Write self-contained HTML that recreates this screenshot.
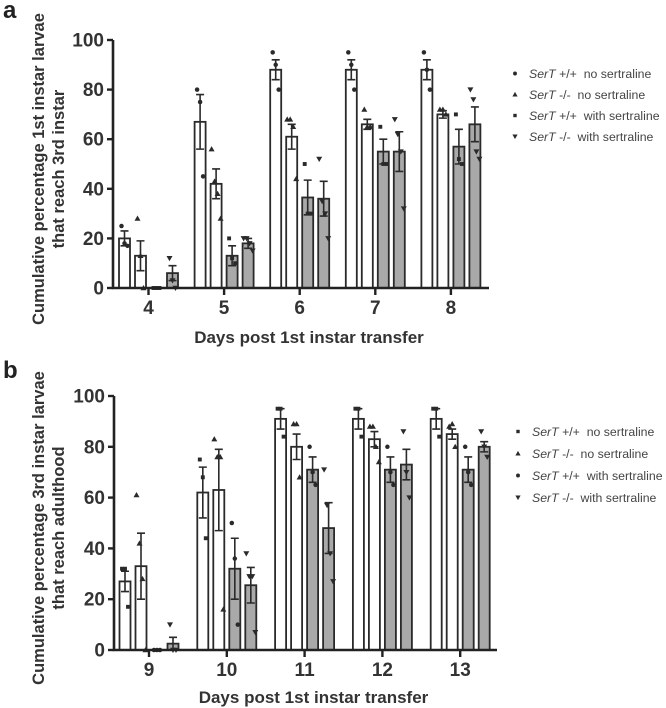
<!DOCTYPE html>
<html><head><meta charset="utf-8"><style>
body{margin:0;background:#fff;width:666px;height:708px;overflow:hidden}
svg{display:block;font-family:"Liberation Sans",Arial,sans-serif}
</style></head><body>
<svg id="chart" width="666" height="708" viewBox="0 0 666 708"></svg>
<script>
const daysA=["4","5","6","7","8"];
const daysB=["9","10","11","12","13"];
const yTicks=[0,20,40,60,80,100];
const seriesNames=["no sertraline","no sertraline","with sertraline","with sertraline"];
const genotypes=["+/+","-/-","+/+","-/-"];
// panel a means / sem / points
const meanA1=[20,67,88,88,88];
const meanA2=[13,42,61,66,70];
const meanA3=[0,13,36.5,55,57];
const meanA4=[6,18,36,55,66];
const semA1=[3,11,4,4,4];
const semA2=[6,6,5,2,1.5];
const semA3=[0,4,7,5,7];
const semA4=[3,2,7,8,7];
const ptsA1=[[25,18,17],[80,75,45],[95,90,80],[95,90,80],[95,88,80]];
const ptsA2=[[28,13,0],[56,43,38,28],[68,68,65,44],[72,65,65],[72,72,70]];
const ptsA3=[[0,0,0],[20,12,10],[50,30,30],[65,50,50],[70,52,50]];
const ptsA4=[[12,3,0],[20,20,18,15],[52,35,30,20],[68,62,55,32],[80,76,55,52]];
// panel b
const meanB1=[27,62,91,91,91];
const meanB2=[33,63,80,83,85];
const meanB3=[0,32,71,71,71];
const meanB4=[2.5,25.5,48,73,80];
const semB1=[4,10,4,4,4];
const semB2=[13,16,5,3,2];
const semB3=[0,12,5,5,5];
const semB4=[2.5,7,10,6,2];
const ptsB1=[[32,32,17],[75,68,44],[95,95,84],[95,95,84],[95,95,84]];
const ptsB2=[[61,42,28,0],[83,76,76,16],[89,89,68],[88,88,80,74],[88,89,80]];
const ptsB3=[[0,0,0],[50,36,10],[80,70,65],[80,70,65],[80,70,65]];
const ptsB4=[[10,0,0],[38,29,29,7],[71,57,38,27],[86,70,60],[86,80,76]];

const NS="http://www.w3.org/2000/svg";
const svg=document.getElementById('chart');
function mk(tag,attrs,parent){const e=document.createElementNS(NS,tag);for(const k in attrs)e.setAttribute(k,attrs[k]);(parent||svg).appendChild(e);return e;}
const dark="#2a2a2a";
function marker(g,type,x,y,s){
  let e;
  if(type==="circle"){e=mk('circle',{cx:x,cy:y,r:s*0.75,fill:dark},g);}
  else if(type==="square"){e=mk('rect',{x:x-s*0.65,y:y-s*0.65,width:s*1.3,height:s*1.3,fill:dark},g);}
  else if(type==="up"){e=mk('polygon',{points:`${x},${y-s} ${x-s},${y+s*0.75} ${x+s},${y+s*0.75}`,fill:dark},g);}
  else {e=mk('polygon',{points:`${x},${y+s} ${x-s},${y-s*0.75} ${x+s},${y-s*0.75}`,fill:dark},g);}
  return e;
}
function panel(cfg){
  const {id,x0,x1,y0,y100,cats,tick0,tickStep,means,sems,pts,markers,title,letter,letterY,legY,legX,xlabelY}=cfg;
  const g=mk('g',{});
  
  
  const yS=v=>y0+(y100-y0)*v/100;
  const xS=i=>tick0+i*tickStep;
  const offs=[-24,-8,8,24];
  const fills=["#fff","#fff","#a9a9a9","#a9a9a9"];
  for(let s=0;s<4;s++){
    for(let i=0;i<cats.length;i++){
      const cx=xS(i)+offs[s], m=means[s][i], se=sems[s][i];
      const bar=mk('rect',{x:cx-5.5,y:yS(m),width:11,height:Math.max(0,y0-yS(m)),fill:fills[s],stroke:dark,'stroke-width':1.8},g);
      
      
      if(se>0){
        const eb=mk('path',{d:`M${cx},${yS(m-se)}V${yS(m+se)}M${cx-4},${yS(m+se)}H${cx+4}M${cx-4},${yS(m-se)}H${cx+4}`,stroke:dark,'stroke-width':1.6,fill:'none'},g);
        
        
      }
      const p=pts[s][i];
      p.forEach((v,k)=>{
        const dx=(p.length>1)?(k-(p.length-1)/2)*3:0;
        const mkEl=marker(g,markers[s],cx+dx,yS(v),3);
        
        
      });
    }
  }
  const ax=mk('path',{d:`M${x0},${y100}V${y0}H${x1}`,stroke:"#222",'stroke-width':2.6,fill:'none'},g);
  
  
  yTicks.forEach(v=>{
    mk('line',{x1:x0-6,x2:x0,y1:yS(v),y2:yS(v),stroke:"#222",'stroke-width':2.4},g);
    const t=mk('text',{x:x0-9,y:yS(v)+6.5,'text-anchor':'end','font-size':19,'font-weight':'bold',fill:'#333'},g);
    t.textContent=v;
    
    
  });
  cats.forEach((c,i)=>{
    mk('line',{x1:xS(i),x2:xS(i),y1:y0,y2:y0+7,stroke:"#222",'stroke-width':2.4},g);
    const t=mk('text',{x:xS(i),y:y0+26,'text-anchor':'middle','font-size':19,'font-weight':'bold',fill:'#333'},g);
    t.textContent=c;
    
    
  });
  const xl=mk('text',{x:(x0+x1)/2+8,y:xlabelY,'text-anchor':'middle','font-size':17,'font-weight':'bold',fill:'#333'},g);
  xl.textContent="Days post 1st instar transfer";
  
  
  const cy=(y0+y100)/2+5;
  const yt=mk('text',{transform:`translate(44,${cy}) rotate(-90)`,'text-anchor':'middle','font-size':16.5,'font-weight':'bold',fill:'#333'},g);
  
  
  const t1=mk('tspan',{x:0,y:0},yt);t1.textContent=title[0];
  const t2=mk('tspan',{x:0,y:20},yt);t2.textContent=title[1];
  const lt=mk('text',{x:3,y:letterY,'font-size':24,'font-weight':'bold',fill:'#222'},g);
  lt.textContent=letter;
  
  
  for(let s=0;s<4;s++){
    const ly=legY[0]+s*(legY[1]-legY[0]);
    const lg=mk('g',{},g);
    
    
    marker(lg,markers[s],legX,ly-4.5,2.6);
    const tx=mk('text',{x:legX+14,y:ly,'font-size':12.3,fill:'#444'},lg);
    const a=mk('tspan',{'font-style':'italic'},tx);a.textContent="SerT ";
    const b=mk('tspan',{},tx);b.textContent=genotypes[s]+"\u00a0 "+seriesNames[s];
  }
}
panel({id:'a',x0:113,x1:489,y0:288,y100:40,cats:daysA,tick0:148.5,tickStep:75.6,
  means:[meanA1,meanA2,meanA3,meanA4],sems:[semA1,semA2,semA3,semA4],pts:[ptsA1,ptsA2,ptsA3,ptsA4],
  markers:["circle","up","square","down"],title:["Cumulative percentage 1st instar larvae","that reach 3rd instar"],
  letter:"a",letterY:18,legY:[78,99],legX:515,xlabelY:343});
panel({id:'b',x0:114,x1:497,y0:650,y100:396,cats:daysB,tick0:149,tickStep:77.8,
  means:[meanB1,meanB2,meanB3,meanB4],sems:[semB1,semB2,semB3,semB4],pts:[ptsB1,ptsB2,ptsB3,ptsB4],
  markers:["square","up","circle","down"],title:["Cumulative percentage 3rd instar larvae","that reach adulthood"],
  letter:"b",letterY:378,legY:[436,458],legX:518,xlabelY:703});
</script>
</body></html>
